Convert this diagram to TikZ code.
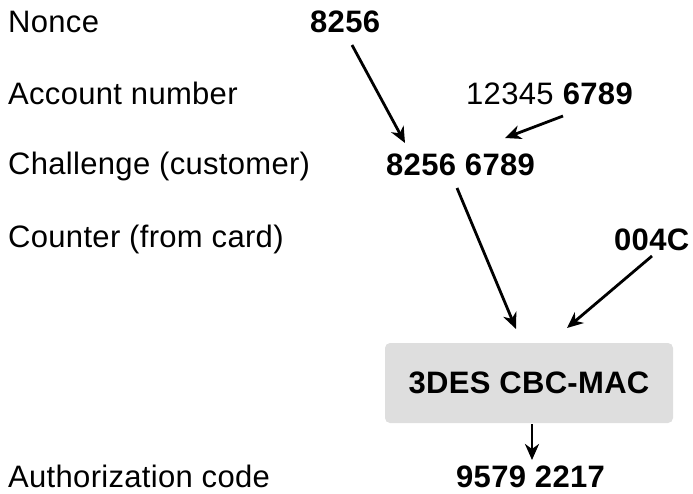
\documentclass[tikz,border=0pt]{standalone}
\usepackage{fontspec}
\setmainfont{Liberation Sans}[LetterSpace=1]
\usetikzlibrary{arrows.meta}
\begin{document}
\begin{tikzpicture}[x=1pt,y=-1pt,
  lbl/.style={inner sep=0pt,anchor=base west,font=\fontsize{31}{37}\selectfont},
  val/.style={lbl,font=\fontsize{31}{37}\selectfont\bfseries},
  conn/.style={line width=2.8pt,-{Stealth[length=16pt,width=14pt,inset=5pt]}},
  macbox/.style={fill=black!13,rounded corners=5pt,minimum width=288pt,minimum height=80pt,inner sep=0pt,font=\fontsize{31}{37}\selectfont\bfseries}]
\useasboundingbox (0,0) rectangle (693,493);
\node[lbl] (lnonce) at (8,32) {Nonce};
\node[lbl] (lacct) at (8,104) {Account number};
\node[lbl] (lchal) at (8,174) {Challenge (customer)};
\node[lbl] (lcnt) at (8,247) {Counter (from card)};
\node[lbl] (lauth) at (8,487) {Authorization code};
\node[val] (nonce) at (310,32) {8256};
\node[lbl] (acct) at (466,104) {12345 \textbf{6789}};
\node[val] (chal) at (386,175) {8256 6789};
\node[val] (cnt) at (614,250) {004C};
\node[macbox] (mac) at (529,383) {3DES CBC-MAC};
\node[val] (auth) at (456,487) {9579 2217};
\coordinate (a1s) at (352,45);
\coordinate (a1e) at (405,143);
\coordinate (a2s) at (563,116);
\coordinate (a2e) at (505,138);
\coordinate (a3s) at (457,188);
\coordinate (a3e) at (516,329);
\coordinate (a4s) at (652,256);
\coordinate (a4e) at (567,328);
\coordinate (a5s) at (532,424);
\coordinate (a5e) at (532,460);
\draw[conn] (a1s) -- (a1e);
\draw[conn] (a2s) -- (a2e);
\draw[conn] (a3s) -- (a3e);
\draw[conn] (a4s) -- (a4e);
\draw[conn] (a5s) -- (a5e);
\end{tikzpicture}
\end{document}
